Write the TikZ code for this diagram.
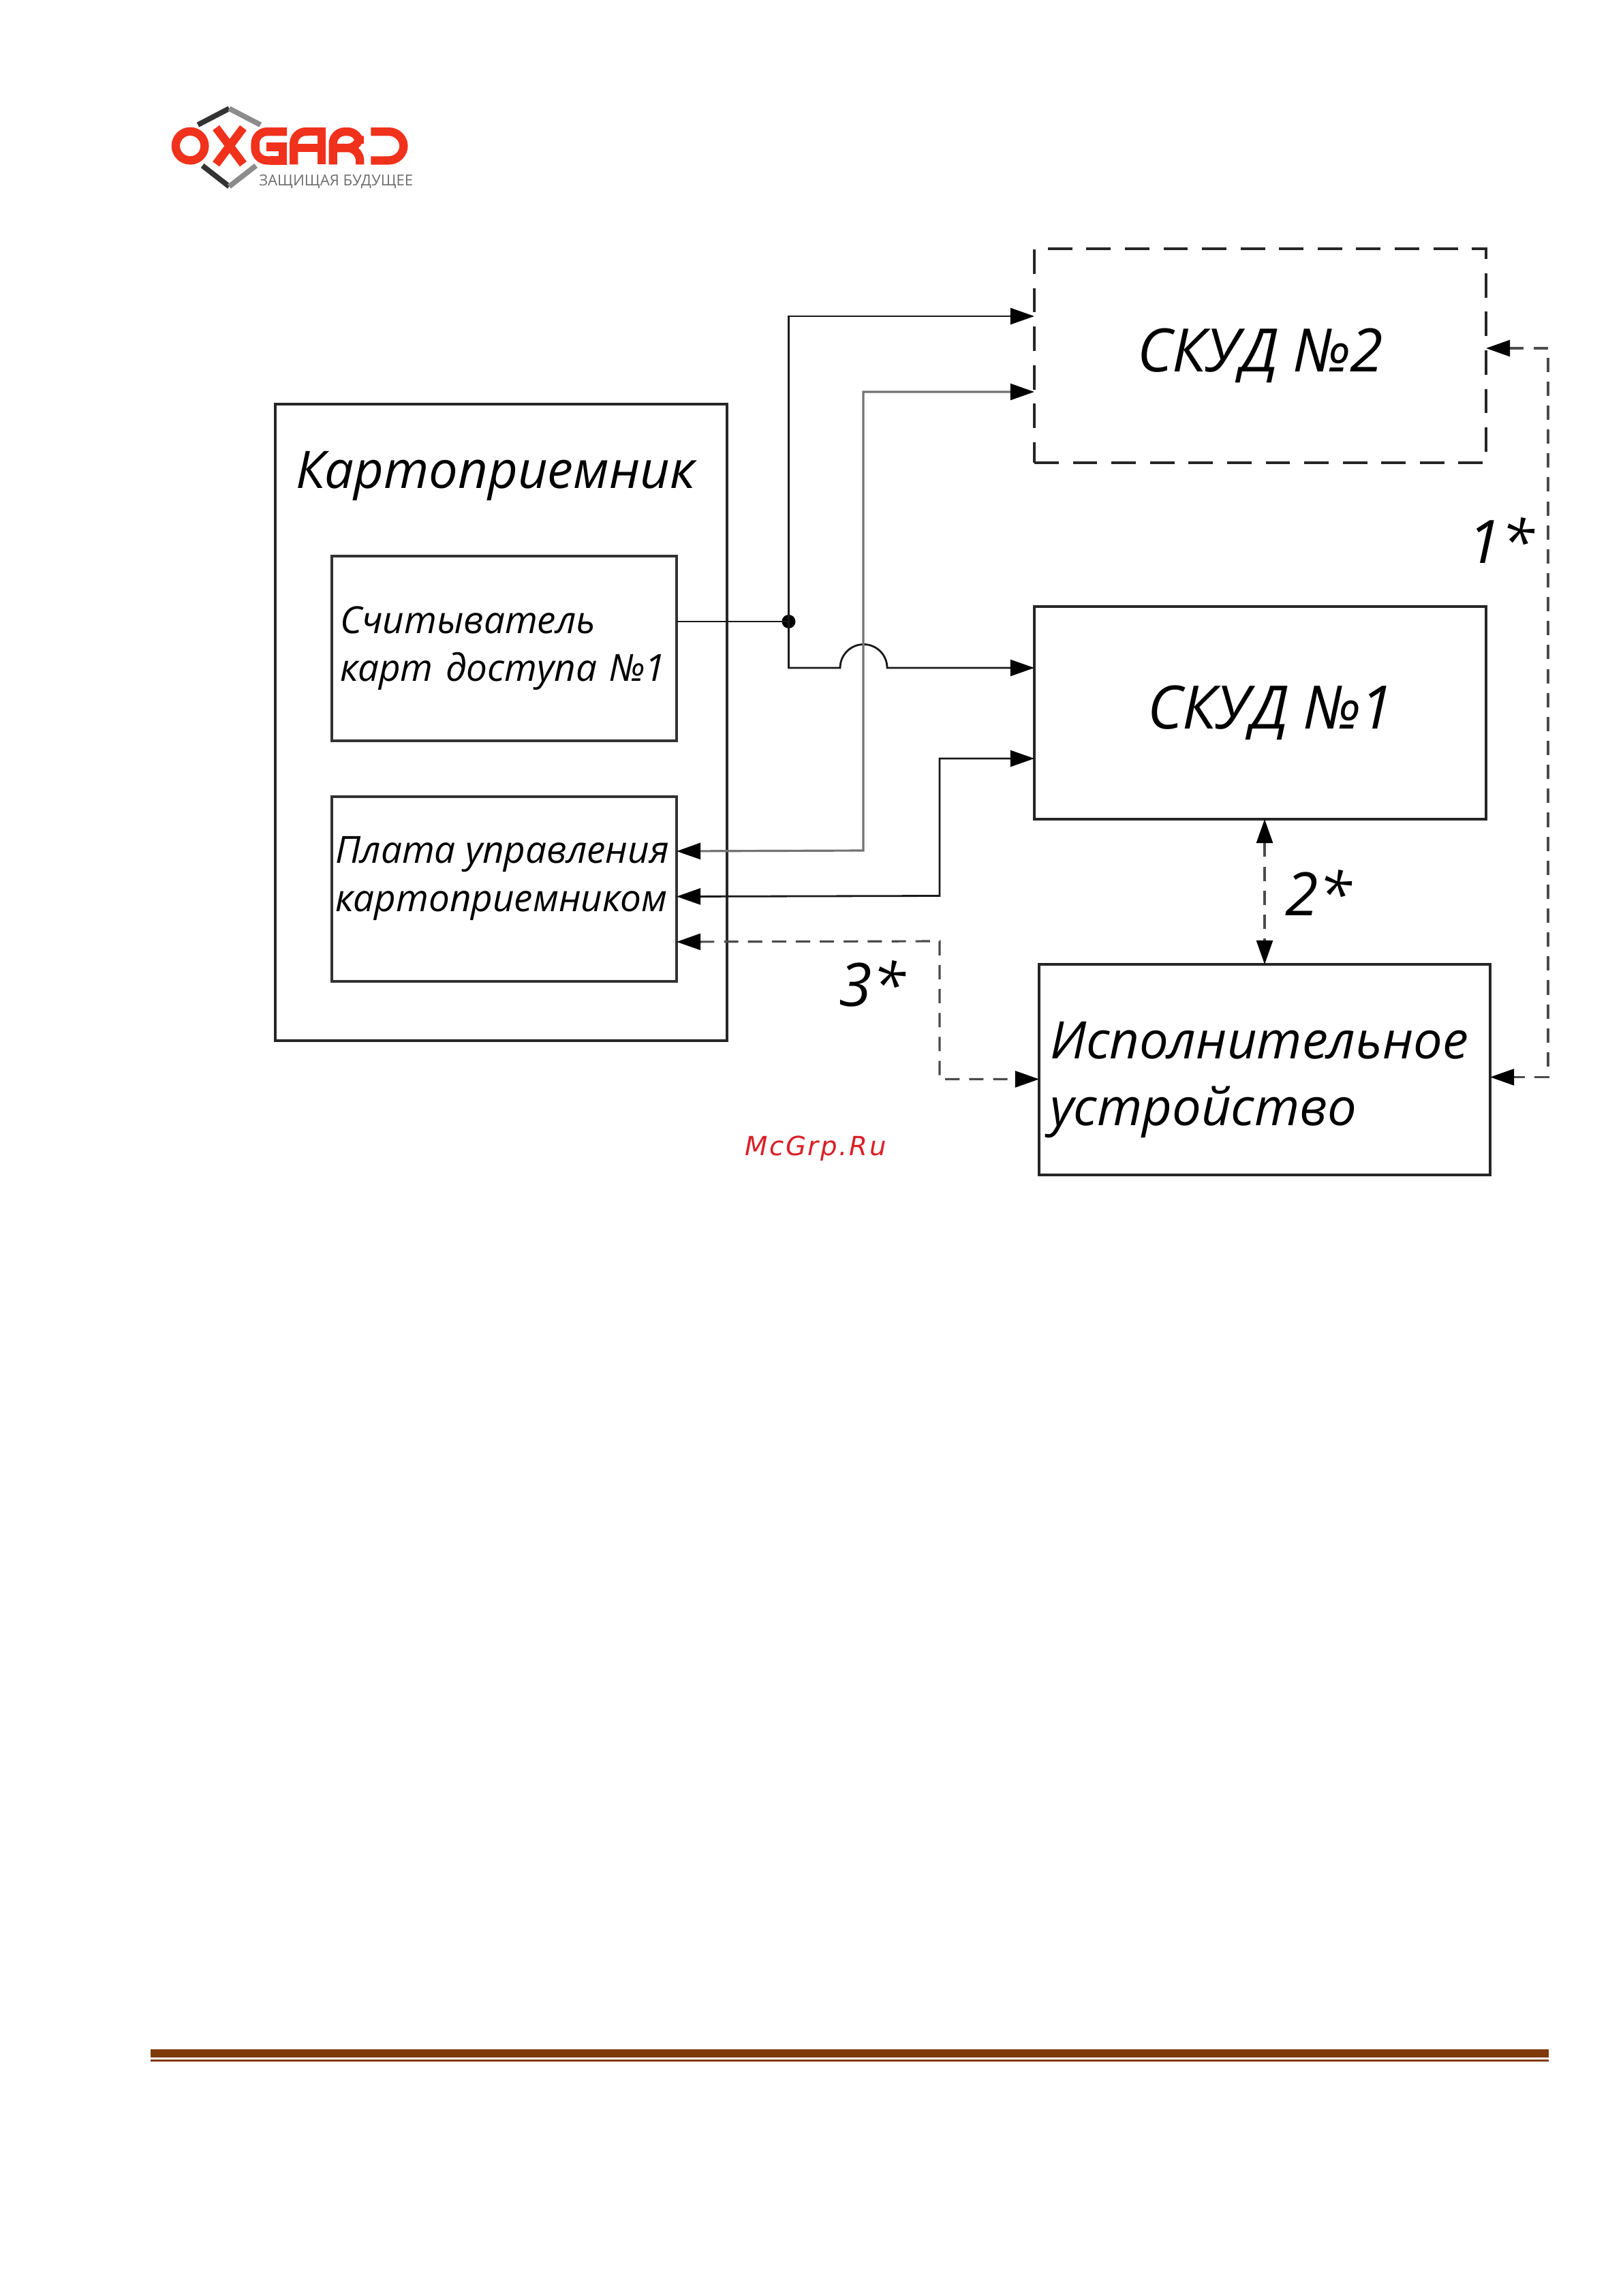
\documentclass[tikz,border=0pt]{standalone}
\usepackage{fontspec}
\setmainfont{Open Sans}
\newfontfamily\markfont{DejaVu Sans}
\usetikzlibrary{arrows.meta,positioning}
\definecolor{logored}{HTML}{F0311C}
\definecolor{logogray}{HTML}{6E6E6E}
\definecolor{footbrown}{HTML}{7F3A08}
\definecolor{markred}{HTML}{D92027}
\newcommand{\bigtext}{\fontsize{21.6}{28}\selectfont\itshape}
\newcommand{\skudtext}{\fontsize{25}{30}\selectfont\itshape}
\newcommand{\smalltext}{\fontsize{15.6}{20}\selectfont\itshape}
\tikzset{
  bigbox/.style={draw=black!85, line width=1.4pt, outer sep=0pt, inner sep=0pt, font=\bigtext},
  smallbox/.style={draw=black!80, line width=1pt, outer sep=0pt, inner xsep=.12cm, minimum width=5.06cm, minimum height=2.71cm, text width=4.82cm, align=left, font=\smalltext},
  wire/.style={line width=.8pt, black!90},
  greywire/.style={line width=.9pt, black!55},
  dashwire/.style={line width=.9pt, black!70, dash pattern=on 6pt off 4pt},
  bothtips/.style={{Triangle[length=10pt,width=6.8pt,black]}-{Triangle[length=10pt,width=6.8pt,black]}},
  endtip/.style={-{Triangle[length=10pt,width=6.8pt,black]}},
  logostroke/.style={logored, line width=3.5pt},
}
\begin{document}
\begin{tikzpicture}[font=\itshape]
  \useasboundingbox (0,0) rectangle (23.82,-33.69);

  % boxes
  \node[bigbox, minimum width=6.63cm, minimum height=9.34cm] (card) at (7.355,-10.6) {};
  \node[smallbox] (reader) [below right = 2.23cm and .83cm of card.north west] {Считыватель\\карт доступа №1};
  \node[smallbox] (plata) [below = .82cm of reader] {};
  \node[bigbox, font=\skudtext, dash pattern=on 10.2pt off 5.9pt, minimum width=6.63cm, minimum height=3.14cm] (skud2) at (18.495,-5.22) {СКУД №2};
  \node[bigbox, font=\skudtext, minimum width=6.63cm, minimum height=3.12cm] (skud1) [below = 2.11cm of skud2] {\hspace*{.3cm}СКУД №1};
  \node[bigbox, minimum width=6.62cm, minimum height=3.09cm, align=left, text width=6.3cm] (ispoln) [below = 2.13cm of skud1, xshift=.065cm] {\rule{0pt}{24pt}Исполнительное\\устройство};

  % texts without a frame of their own
  \node[anchor=west, font=\bigtext] (cardtitle) at (4.22,-6.98) {Картоприемник};
  \node[anchor=west, align=left, font=\smalltext] (platatext) at (4.8,-12.89) {Плата управления\\картоприемником};
  \node[font=\skudtext] (one) at (22.03,-7.93) {1*};
  \node[font=\skudtext] (two) at (19.35,-13.1) {2*};
  \node[font=\skudtext] (three) at (12.8,-14.43) {3*};
  \node[font=\markfont\itshape\fontsize{11}{14}\selectfont, text=markred] (mark) at (11.97,-16.85) {\addfontfeature{LetterSpace=7}McGrp.Ru};

  % connectors
  \coordinate (fork) at (11.575,-9.12);
  \coordinate (jumpa) at (12.33,-9.8);
  \coordinate (jumpb) at (13.02,-9.8);
  \coordinate (bendb) at (12.67,-12.48);
  \coordinate (bendc) at (13.79,-13.145);
  \coordinate (bendd) at (13.79,-13.81);
  \coordinate (rail) at (22.72,-10);

  \fill (fork) circle (.1);
  \draw[wire] (reader.east |- fork) -- (fork);
  \draw[wire, endtip] (fork) |- ([yshift=.58cm]skud2.west);
  \draw[wire, endtip] (fork) |- (jumpa) arc[start angle=180, end angle=0, radius=.345] -- ([yshift=.66cm]skud1.west);
  \draw[greywire, bothtips] ([yshift=.555cm]plata.east) -- (bendb) |- ([yshift=-.53cm]skud2.west);
  \draw[wire, bothtips] ([yshift=-.11cm]plata.east) -- (bendc) |- ([yshift=-.67cm]skud1.west);
  \draw[dashwire, bothtips] ([yshift=-.775cm]plata.east) -- (bendd) |- ([yshift=-.14cm]ispoln.west);
  \draw[dashwire, bothtips] (skud1.south -| ispoln.north) -- (ispoln.north);
  \draw[dashwire, bothtips] ([yshift=.11cm]skud2.east) -| (rail) |- ([yshift=-.11cm]ispoln.east);

  % logo
  \begin{scope}[shift={(2,-1.2)}, x=.00333cm, y=-.00333cm]
    \draw[logostroke] (238,283) ellipse (64 and 64);
    \draw[logostroke] (352,203) -- (472,363) (472,203) -- (352,363);
    \draw[logostroke, rounded corners=5pt] (665,220) -- (525,220) -- (525,347) -- (590,347);
    \draw[logostroke] (590,347) -- (647,347) -- (647,287) -- (575,287);
    \draw[logostroke, rounded corners=5pt] (695,365) -- (695,220) -- (760,220);
    \draw[logostroke] (760,220) -- (818,220) -- (818,365) (695,292) -- (818,292);
    \draw[logostroke, rounded corners=5pt] (868,365) -- (868,220) -- (985,220) -- (985,292) -- (868,292);
    \draw[logostroke, rounded corners=4pt] (940,292) -- (987,305) -- (987,365);
    \draw[logostroke, rounded corners=6.2pt] (1035,220) -- (1180,220) -- (1180,347) -- (1035,347);
    \draw[black!80, line width=2.2pt] (272,190) -- (410,118);
    \draw[black!45, line width=2.2pt] (410,118) -- (548,190);
    \draw[black!80, line width=2.2pt] (292,370) -- (410,462);
    \draw[black!45, line width=2.2pt] (410,462) -- (528,370);
    \node[anchor=west, text=logogray, inner sep=0pt, font=\upshape\fontsize{6.3}{8}\selectfont] (slogan) at (540,440) {ЗАЩИЩАЯ БУДУЩЕЕ};
  \end{scope}

  % footer rule
  \fill[footbrown] (2.21,-30.07) rectangle (22.73,-30.19);
  \fill[footbrown] (2.21,-30.22) rectangle (22.73,-30.25);
\end{tikzpicture}
\end{document}
